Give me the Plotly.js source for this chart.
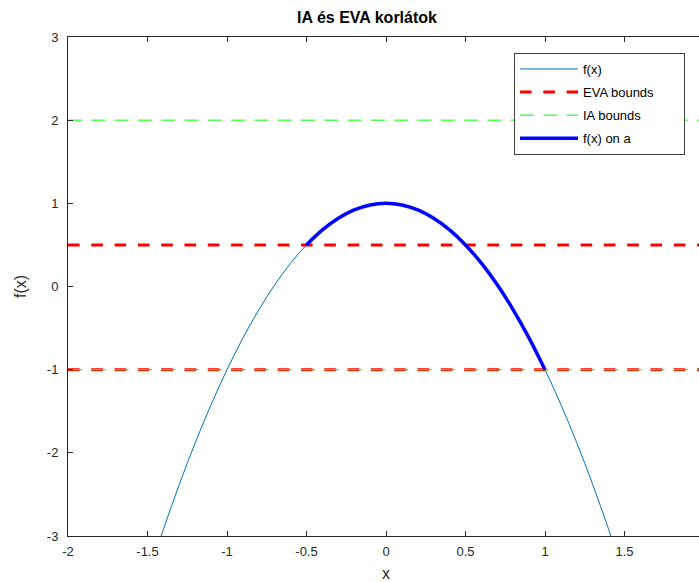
<!DOCTYPE html>
<html>
<head>
<meta charset="utf-8">
<script src="https://cdn.plot.ly/plotly-3.0.1.min.js"></script>
<style>
html, body { margin: 0; padding: 0; overflow: hidden; background: #fff; }
#chart { width: 710px; height: 582px; }
</style>
</head>
<body>
<div id="chart"></div>
<script>
// f(x)
const fX = [-1.5,-1.4,-1.3,-1.2,-1.1,-1.0,-0.9,-0.8,-0.7,-0.6,-0.5,-0.4,-0.3,-0.2,-0.1,0,0.1,0.2,0.3,0.4,0.5,0.6,0.7,0.8,0.9,1.0,1.1,1.2,1.3,1.4,1.5];
const fY = [-3.5,-2.92,-2.38,-1.88,-1.42,-1,-0.62,-0.28,0.02,0.28,0.5,0.68,0.82,0.92,0.98,1,0.98,0.92,0.82,0.68,0.5,0.28,0.02,-0.28,-0.62,-1,-1.42,-1.88,-2.38,-2.92,-3.5];
// f(x) on the interval a = [-0.5, 1]
const aX = [-0.5,-0.4,-0.3,-0.2,-0.1,0,0.1,0.2,0.3,0.4,0.5,0.6,0.7,0.8,0.9,1.0];
const aY = [0.5,0.68,0.82,0.92,0.98,1,0.98,0.92,0.82,0.68,0.5,0.28,0.02,-0.28,-0.62,-1];
// bounds
const boundX = [-2, 2];
const evaBounds = [0.5, -1];
const iaBounds = [2, -1];
const xTicks = [-2,-1.5,-1,-0.5,0,0.5,1,1.5,2];
const yTicks = [-3,-2,-1,0,1,2,3];
const seriesNames = ['f(x)', 'EVA bounds', 'IA bounds', 'f(x) on a'];

const axisColor = '#262626';
const pad = '\u00a0'.repeat(7);
const traces = [
  {x: fX, y: fY, type: 'scatter', mode: 'lines', name: seriesNames[0], legendgroup: 'f',
   line: {color: '#0072BD', width: 1, shape: 'spline'}},
  {x: boundX, y: [evaBounds[0], evaBounds[0]], type: 'scatter', mode: 'lines', name: seriesNames[1] + pad, legendgroup: 'eva',
   line: {color: '#FF0000', width: 3, dash: '11.6px,11.7px'}},
  {x: boundX, y: [evaBounds[1], evaBounds[1]], type: 'scatter', mode: 'lines', name: seriesNames[1], legendgroup: 'eva', showlegend: false,
   line: {color: '#FF0000', width: 3, dash: '11.6px,11.7px'}},
  {x: boundX, y: [iaBounds[0], iaBounds[0]], type: 'scatter', mode: 'lines', name: seriesNames[2], legendgroup: 'ia',
   line: {color: '#00FF00', width: 1, dash: '14px,9.3px'}},
  {x: boundX, y: [iaBounds[1], iaBounds[1]], type: 'scatter', mode: 'lines', name: seriesNames[2], legendgroup: 'ia', showlegend: false,
   line: {color: '#00FF00', width: 1.2, dash: '14px,9.3px'}},
  {x: aX, y: aY, type: 'scatter', mode: 'lines', name: seriesNames[3], legendgroup: 'a',
   line: {color: '#0000FF', width: 3.5, shape: 'spline'}}
];

const layout = {
  width: 710, height: 582,
  margin: {l: 68, r: 6, t: 37, b: 46},
  paper_bgcolor: '#fff', plot_bgcolor: '#fff',
  font: {family: 'Liberation Sans, Arial, sans-serif', size: 13, color: axisColor},
  title: {text: '<b>IA és EVA korlátok</b>', font: {size: 16, color: '#000'},
          x: (367-68)/636, xanchor: 'center', xref: 'paper', y: 1 - 17/582, yanchor: 'middle', yref: 'container'},
  xaxis: {range: [-2, 2], tickvals: xTicks, ticktext: xTicks.map(String), ticks: 'inside', ticklen: 5,
          tickcolor: axisColor, showline: true, linecolor: axisColor, linewidth: 1, mirror: 'ticks',
          showgrid: false, zeroline: false, ticklabelstandoff: 3, title: {text: 'x', standoff: 15}},
  yaxis: {range: [-3, 3], tickvals: yTicks, ticktext: yTicks.map(String), ticks: 'inside', ticklen: 5,
          tickcolor: axisColor, showline: true, linecolor: axisColor, linewidth: 1, mirror: 'ticks',
          showgrid: false, zeroline: false, ticklabelstandoff: 6, title: {text: 'f(x)', standoff: 16}},
  legend: {x: (514-68)/636, y: (536-53)/499, xanchor: 'left', yanchor: 'top',
           bgcolor: '#fff', bordercolor: '#404040', borderwidth: 1,
           font: {size: 13, color: '#000'}, traceorder: 'grouped', tracegroupgap: 3.2, itemwidth: 58}
};

Plotly.newPlot('chart', traces, layout, {displayModeBar: false, staticPlot: true});
</script>
</body>
</html>
